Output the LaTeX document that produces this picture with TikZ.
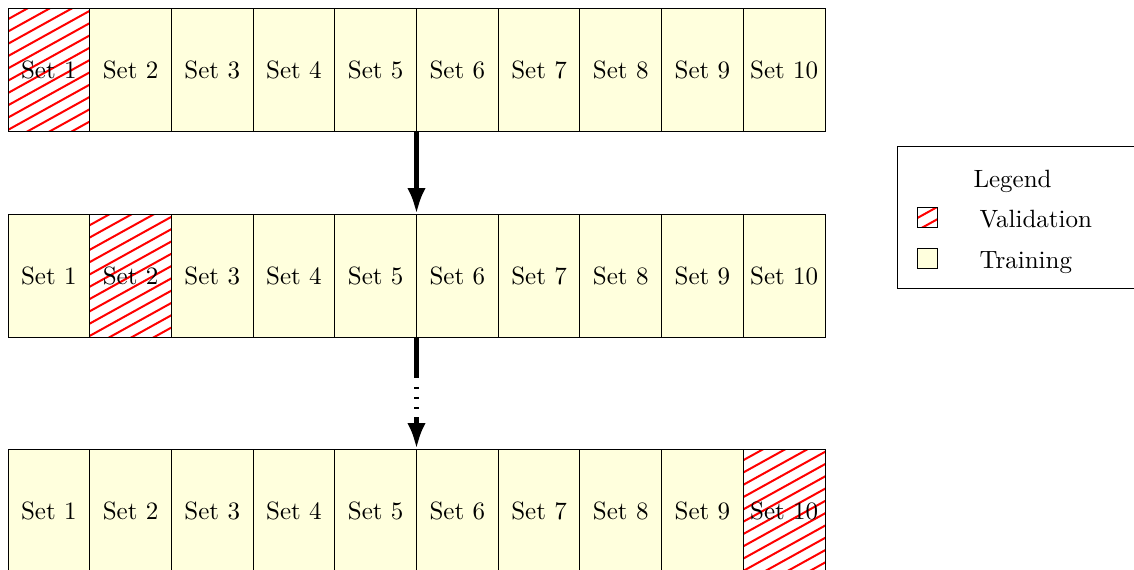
\documentclass[tikz,border=0pt]{standalone}
\usetikzlibrary{arrows.meta}
\definecolor{trainfill}{RGB}{255,255,221}
\tikzset{
  cellbase/.style={draw=black, line width=0.4pt, minimum width=32.68pt,
    minimum height=49.2pt, inner sep=0pt, outer sep=0pt, anchor=north west},
  traincell/.style={cellbase, fill=trainfill},
  valcell/.style={cellbase},
  hatchline/.style={draw=red, line width=0.8pt},
  flow/.style={line width=2pt, -{Latex[length=10.4pt,width=7.4pt]}},
  keybox/.style={draw=black, line width=0.4pt, minimum size=8pt, inner sep=0pt, outer sep=0pt},
  keytext/.style={inner sep=0pt, anchor=base west},
}
% red diagonal hatching clipped to a node, then its border redrawn on top
\newcommand\hatchcell[1]{%
  \begin{scope}
    \clip (#1.north west) rectangle (#1.south east);
    \foreach \k in {-1,...,15}
      \draw[hatchline] (#1.north west) ++(-2,{\k*12.3}) -- ++(100,-55.4);
  \end{scope}
  \draw[line width=0.4pt] (#1.north west) rectangle (#1.south east);
}
\begin{document}
\begin{tikzpicture}[x=0.4pt,y=-0.4pt]
  \useasboundingbox (0,0) rectangle (1134,569);
  \fill[white] (0,0) rectangle (1134,569);
  \clip (0,0) rectangle (1134,569);

  % three folds: each row has one validation set
  \foreach \rowname/\ytop/\v in {a/8/1, b/214/2, c/449/10}{
    \foreach \i in {1,...,10}{
      \ifnum\i=\v \def\sty{valcell}\else\def\sty{traincell}\fi
      \node[\sty] (\rowname\i) at ({8+81.7*(\i-1)},\ytop) {};
    }
  }
  \hatchcell{a1}
  \hatchcell{b2}
  \hatchcell{c10}
  \foreach \rowname in {a,b,c}
    \foreach \i in {1,...,10}
      \node at (\rowname\i.center) {Set \i};

  % progression arrows
  \draw[flow] (a5.south east) -- (b5.north east);
  \draw[flow, dash pattern=on 16.4pt off 3.5pt on 0.8pt off 3.2pt on 0.9pt off 3.2pt on 0.9pt off 3.2pt on 60pt]
    (b5.south east) -- (c5.north east);

  % legend
  \node[draw=black, line width=0.4pt, anchor=north west, minimum width=98pt,
        minimum height=56.8pt, inner sep=0pt] (legendbox) at (897,146) {};
  \node[keytext] (legendtitle) at (973,187) {Legend};
  \node[keybox] (valkey) at (927,217) {};
  \hatchcell{valkey}
  \node[keytext] (vallabel) at (979,227) {Validation};
  \node[keybox, fill=trainfill] (trainkey) at (927,258) {};
  \node[keytext] (trainlabel) at (979,268) {Training};
\end{tikzpicture}
\end{document}
